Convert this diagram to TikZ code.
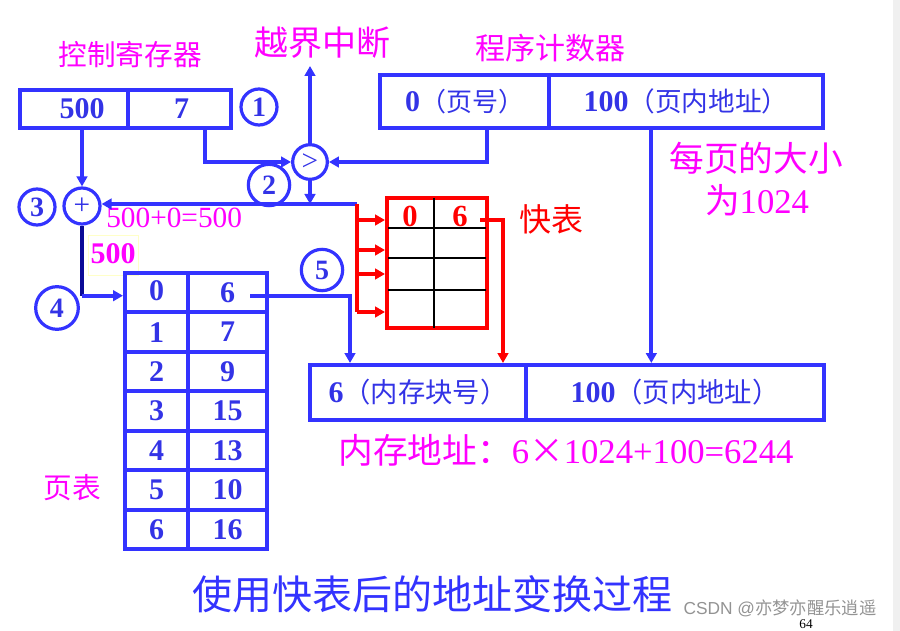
\documentclass[tikz,border=0pt]{standalone}
\usepackage{fontspec}
\setmainfont{Liberation Serif}
\newfontfamily\cjk{Noto Sans CJK SC}
\newfontfamily\wmfont{Liberation Sans}
\usetikzlibrary{arrows.meta,calc}
\definecolor{bblue}{RGB}{51,51,255}
\definecolor{tblue}{RGB}{51,51,230}
\definecolor{mag}{RGB}{255,0,255}
\definecolor{dnavy}{RGB}{10,10,150}
\definecolor{lyel}{RGB}{255,255,200}
\newcommand\fsz[1]{\fontsize{#1}{#1}\selectfont}
\tikzset{
  bl/.style={draw=bblue,line width=3pt},
  cell/.style={bl,rectangle,inner sep=0pt,text=tblue,font=\fsz{22.5pt}\bfseries},
  ptcell/.style={cell,minimum height=29.57pt},
  numc/.style={draw=bblue,line width=2.4pt,circle,inner sep=0pt,text=tblue,font=\fsz{21pt}\bfseries},
  arr/.style={bl,-{Triangle[width=8pt,length=7.5pt]}},
  rarr/.style={draw=red,line width=3pt,-{Triangle[width=8pt,length=7.5pt]}},
  magtxt/.style={text=mag,inner sep=0pt},
}
\begin{document}
\begin{tikzpicture}[x=0.75pt,y=-0.75pt]
\useasboundingbox (0,0) rectangle (900,631);
\fill[gray!12] (893,0) rectangle (900,631);

% control register
\node[magtxt,font=\cjk\fsz{21.5pt}] (crlab) at (130,55) {控制寄存器};
\node[cell,minimum width=81pt,minimum height=28.5pt] (c500) at (74,109) {\hspace*{12pt}500};
\node[cell,minimum width=77.25pt,minimum height=28.5pt] (c7) at (179.5,109) {\hspace*{3pt}7};
\node[numc,minimum size=27pt] (n1) at (259,107) {1};

% interrupt
\node[magtxt,font=\cjk\fsz{25.5pt}] (irqlab) at (322,43) {越界中断};
\node[numc,minimum size=26pt,font=\fsz{22pt}] (cmp) at (310,162) {>};
\coordinate (irq) at (310,66);

% program counter
\node[magtxt,font=\cjk\fsz{22.5pt}] (pclab) at (550,48) {程序计数器};
\node[cell,minimum width=126.75pt,minimum height=39.75pt] (p0) at (464.5,101.5) {0{\cjk\mdseries\fsz{19.5pt}（页号）}};
\node[cell,minimum width=205.5pt,minimum height=39.75pt] (p1) at (686,101.5) {100{\cjk\mdseries\fsz{20pt}（页内地址）}};

\node[magtxt,font=\cjk\fsz{26pt}] (sz1) at (756,158) {每页的大小};
\node[magtxt,font=\fsz{26pt}] (sz2) at (757,200) {{\cjk 为}1024};

% adder and labels
\node[numc,minimum size=31pt] (n2) at (269,185) {2};
\node[numc,minimum size=27pt,font=\fsz{22pt}\mdseries] (add) at (82,206) {+};
\node[numc,minimum size=27pt] (n3) at (37,207) {3};
\node[magtxt,font=\fsz{22pt},anchor=west] (sum) at (106,218) {500+0=500};
\node[draw=lyel,line width=0.8pt,minimum width=38pt,minimum height=30pt,inner sep=0pt] (ybox) at (113.5,255.5) {};
\node[magtxt,font=\fsz{22.5pt}\bfseries] (b500) at (113,254) {500};
\node[numc,minimum size=32pt] (n4) at (57,308) {4};
\node[numc,minimum size=31pt] (n5) at (322,270) {5};

% page table
\node[ptcell,minimum width=47.25pt] (pl0) at (156.5,292.7) {\raisebox{3pt}{0}};
\node[ptcell,minimum width=59.25pt] (pr0) at (227.5,292.7) {\raisebox{-3pt}{6}};
\foreach \i/\v in {1/7,2/9,3/15,4/13,5/10,6/16}{
  \node[ptcell,minimum width=47.25pt] (pl\i) at (156.5,{292.7+\i*39.43}) {\i};
  \node[ptcell,minimum width=59.25pt] (pr\i) at (227.5,{292.7+\i*39.43}) {\v};
}
\node[magtxt,font=\cjk\fsz{21.5pt}] (ptlab) at (72,488) {页表};

% TLB
\node[draw=red,line width=3pt,minimum width=75pt,minimum height=97.5pt,inner sep=0pt] (tlb) at (437,263) {};
\draw[black,line width=1.6pt] (434,198) -- (434,328);
\foreach \yy in {228,258,290}{ \draw[black,line width=1.6pt] (388,\yy) -- (486,\yy); }
\node[text=red,font=\fsz{23pt}\bfseries,inner sep=0pt] (tlb0) at (410,216) {0};
\node[text=red,font=\fsz{23pt}\bfseries,inner sep=0pt] (tlb6) at (460,216) {6};
\node[text=red,font=\cjk\fsz{24pt},inner sep=0pt] (tlblab) at (551,219) {快表};

% memory address
\node[cell,minimum width=162pt,minimum height=41.25pt] (m0) at (418,392.5) {6{\cjk\mdseries\fsz{20.5pt}（内存块号）}};
\node[cell,minimum width=223.5pt,minimum height=41.25pt] (m1) at (675,392.5) {100{\cjk\mdseries\fsz{20.5pt}（页内地址）}};
\node[magtxt,font=\fsz{26pt}] (malab) at (566,450) {{\cjk 内存地址：}6{\cjk ×}1024+100=6244};

% title and watermark
\node[text=bblue,font=\cjk\fsz{30pt},inner sep=0pt] (title) at (432,594) {使用快表后的地址变换过程};
\node[text=gray!85,font=\wmfont\fsz{13pt},inner sep=0pt] (wm) at (780,608) {CSDN @{\cjk 亦梦亦醒乐逍遥}};
\node[text=black,font=\fsz{10pt},inner sep=0pt] (pg) at (806,624) {64};

% connectors
\coordinate (bus) at (357,204);
\coordinate (jn) at (310,204);
\coordinate (busend) at (357,312);
\coordinate (tap1) at (357,220);
\coordinate (tap2) at (357,250);
\coordinate (tap3) at (357,274);
\draw[arr] (add |- c500.south) -- (add.north);
\draw[arr] ([xshift=19.1pt]c7.south) |- (cmp.west);
\draw[arr] ([xshift=16.9pt]p0.south) |- (cmp.east);
\draw[arr] (cmp.north) -- (irq);
\draw[arr] (cmp.south) -- (jn);
\draw[arr] (bus) -- (bus -| add.east);
\draw[draw=dnavy,line width=3pt] (add.south) -- ($(add |- pl0.west)+(0,3)$);
\draw[arr] ($(add |- pl0.west)+(0,3)$) -- ($(pl0.west)+(0,3)$);
\draw[arr] ([xshift=17pt,yshift=-2.5pt]pr0.center) -| ([xshift=-51pt]m0.north);
\draw[arr] ([xshift=-26pt]p1.south) -- ([xshift=-26pt]p1.south |- m1.north);

% red bus
\draw[draw=red,line width=3pt] (bus) -- (busend);
\draw[rarr] (tap1) -- (tap1 -| tlb.west);
\draw[rarr] (tap2) -- (tap2 -| tlb.west);
\draw[rarr] (tap3) -- (tap3 -| tlb.west);
\draw[rarr] (busend) -- (busend -| tlb.west);
\draw[rarr] ([xshift=15pt,yshift=-3pt]tlb6.center) -| ([xshift=63.75pt]m0.north);
\end{tikzpicture}
\end{document}
